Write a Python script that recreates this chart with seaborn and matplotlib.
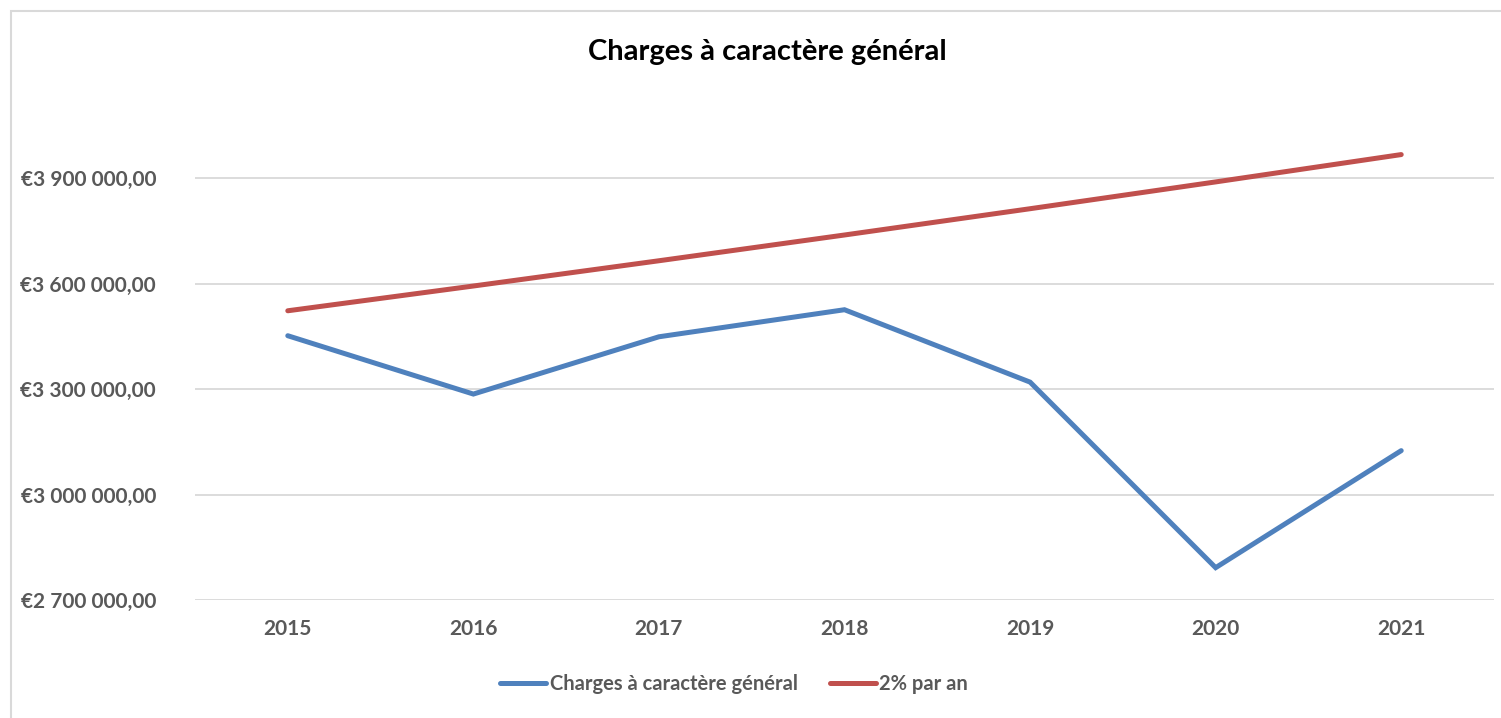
import matplotlib
matplotlib.use("Agg")
import matplotlib.pyplot as plt
import matplotlib.ticker as mticker
from matplotlib.patches import Rectangle
import pandas as pd
import seaborn as sns

years = [2015, 2016, 2017, 2018, 2019, 2020, 2021]
charges = [3452000, 3286000, 3449000, 3526000, 3320000, 2792000, 3125000]
objectif_2pct = [3523000, 3593460, 3665329, 3738636, 3813409, 3889677, 3967471]
series_names = ["Charges à caractère général", "2% par an"]
yticks = [2700000, 3000000, 3300000, 3600000, 3900000]

df = pd.concat([
    pd.DataFrame({"annee": years, "montant": charges, "serie": series_names[0]}),
    pd.DataFrame({"annee": years, "montant": objectif_2pct, "serie": series_names[1]}),
])

sns.set_theme(style="white")
plt.rcParams["font.family"] = ["Lato", "DejaVu Sans"]
text_col = "#595959"

fig = plt.figure(figsize=(15.01, 7.18), dpi=100)
ax = fig.add_axes([195 / 1501, 1 - 600 / 718, (1494 - 195) / 1501, (600 - 108) / 718])

sns.lineplot(data=df, x="annee", y="montant", hue="serie",
             palette=["#4F81BD", "#C0504D"], linewidth=3.6, ax=ax,
             legend=True)
for ln in ax.lines:
    ln.set_solid_capstyle("round")
    ln.set_solid_joinstyle("miter")

ax.set_xlim(2014.5, 2021.5)
ax.set_ylim(2700000, 4100000)
ax.set_xticks(years)
ax.set_xticklabels([str(y) for y in years])
ax.set_yticks(yticks)
ax.yaxis.set_major_formatter(mticker.FuncFormatter(
    lambda v, p: "€" + f"{v:,.2f}".replace(",", " ").replace(".", ",")))
ax.grid(axis="y", color="#d9d9d9", linewidth=1.3)
ax.set_axisbelow(True)
for s in ax.spines.values():
    s.set_visible(False)
ax.tick_params(axis="both", length=0, labelsize=15, labelcolor=text_col)
ax.tick_params(axis="y", pad=28)
ax.tick_params(axis="x", pad=14)
for lab in ax.get_xticklabels() + ax.get_yticklabels():
    lab.set_fontweight("bold")
ax.set_xlabel("")
ax.set_ylabel("")

handles, labels = ax.get_legend_handles_labels()
ax.get_legend().remove()
leg = fig.legend(handles, labels, loc="center", bbox_to_anchor=(0.489, 1 - 684 / 718),
                 ncol=2, frameon=False, fontsize=14.5, handlelength=2.3,
                 handletextpad=0.15, columnspacing=1.6)
for t in leg.get_texts():
    t.set_color(text_col)
    t.set_fontweight("bold")

fig.text(0.511, 1 - 52 / 718, "Charges à caractère général", ha="center", va="center",
         fontsize=21, fontweight="bold", color="black")

fig.patches.append(Rectangle((11 / 1501, -0.05), 1.1, 1.05 - 11 / 718,
                             transform=fig.transFigure, fill=False,
                             edgecolor="#d9d9d9", linewidth=1.5))

fig.savefig("out.png", dpi=100)
